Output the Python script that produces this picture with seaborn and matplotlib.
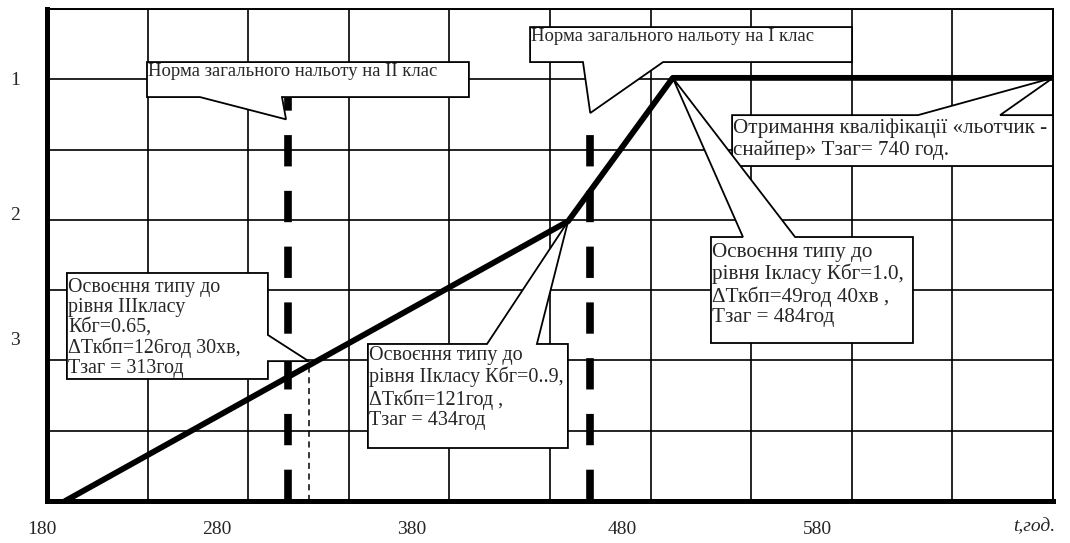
import numpy as np
import matplotlib
matplotlib.use("Agg")
import matplotlib.pyplot as plt
import seaborn as sns
from matplotlib.patches import Polygon

# flight hours vs qualification level
hours = [189, 439, 491, 680]
level = [0.0, 3.98, 6.02, 6.02]

norm_class2 = 300      # norm of total flight time for class II
norm_class1 = 450      # norm of total flight time for class I
t_class3 = 310         # class III reached
level_class3 = 1.99

xtick_pos = [177.5, 264.5, 361.5, 466.0, 563.0]
xtick_labels = ["180", "280", "380", "480", "580"]
ytick_pos = [2.28, 4.06, 5.98]
ytick_labels = ["3", "2", "1"]

# callouts: box (x0, x1, y0, y1), pointer side, base a, tip, base b, text
callouts = [
    dict(box=(229.7, 389.7, 5.747, 6.245), side="bottom", a=256.0, tip=(298.8, 5.43), b=296.8,
         text="Норма загального нальоту на II клас", fs=13.4, ls=1.0, dy=0.02),
    dict(box=(420.1, 580.1, 6.245, 6.743), side="bottom", a=446.4, tip=(norm_class1, 5.52), b=486.2,
         text="Норма загального нальоту на I клас", fs=13.4, ls=1.0, dy=0.02),
    dict(box=(520.5, 680.0, 4.766, 5.49), side="top", a=612.9, tip=(hours[3], level[3]), b=653.7,
         text="Отримання кваліфікації «льотчик -\nснайпер» Тзаг= 740 год.", fs=15.2, ls=1.16, dy=0.05),
    dict(box=(510.0, 610.4, 2.248, 3.756), side="top", a=525.9, tip=(hours[2], level[2]), b=551.8,
         text="Освоєння типу до\nрівня Ікласу Кбг=1.0,\nΔТкбп=49год 40хв ,\nТзаг = 484год", fs=15.2, ls=1.13, dy=0.08),
    dict(box=(339.5, 438.9, 0.754, 2.234), side="top", a=398.7, tip=(hours[1], level[1]), b=423.5,
         text="Освоєння типу до\nрівня IIкласу Кбг=0..9,\nΔТкбп=121год ,\nТзаг = 434год", fs=14.5, ls=1.12, dy=0.03),
    dict(box=(189.9, 289.8, 1.736, 3.244), side="right", a=2.362, tip=(t_class3, level_class3), b=1.99,
         text="Освоєння типу до\nрівня IIIкласу\nКбг=0.65,\nΔТкбп=126год 30хв,\nТзаг = 313год", fs=14.4, ls=1.07, dy=0.07),
]


def callout_poly(c):
    x0, x1, y0, y1 = c["box"]
    a, b, tip = c["a"], c["b"], c["tip"]
    if c["side"] == "bottom":
        pts = [(x0, y1), (x1, y1), (x1, y0), (b, y0), tip, (a, y0), (x0, y0)]
    elif c["side"] == "top":
        pts = [(x0, y1), (a, y1), tip, (b, y1), (x1, y1), (x1, y0), (x0, y0)]
    else:
        pts = [(x0, y1), (x1, y1), (x1, a), tip, (x1, b), (x1, y0), (x0, y0)]
    return Polygon(pts, closed=True, facecolor="white", edgecolor="black", lw=1.3, zorder=4)


sns.set_theme(style="white")
plt.rcParams["font.family"] = ["Liberation Serif", "DejaVu Serif"]

fig = plt.figure(figsize=(10.7, 5.43), dpi=100)
ax = fig.add_axes([47 / 1070, 42 / 543, 1006 / 1070, 492 / 543])

# norms (thick dashed) and class III moment (thin dashed)
ax.plot([norm_class2, norm_class2], [0, 5.75], color="black", lw=5.5,
        linestyle=(0, (4.1, 3.2)), zorder=3)
ax.plot([norm_class1, norm_class1], [0, 5.52], color="black", lw=5.5,
        linestyle=(0, (4.1, 3.2)), zorder=3)
ax.plot([t_class3, t_class3], [0, level_class3], color="black", lw=1.1,
        linestyle=(0, (4, 3)), zorder=3)

for c in callouts:
    ax.add_patch(callout_poly(c))
    x0, x1, y0, y1 = c["box"]
    ax.text(x0 + 0.6, y1 - c["dy"], c["text"], fontsize=c["fs"], va="top", ha="left",
            linespacing=c["ls"], zorder=5)

sns.lineplot(x=hours, y=level, ax=ax, color="black", lw=4.2, sort=False, zorder=5)

# grid on ticks, labels drawn as text (they sit off the grid in the original)
ax.set_xticks(np.arange(180, 681, 50))
ax.set_yticks(np.arange(0, 8, 1))
ax.set_xticklabels([])
ax.set_yticklabels([])
ax.set_xlim(180, 680)
ax.set_ylim(0, 7)
ax.grid(True, color="black", lw=1.2)
ax.tick_params(which="both", length=0)
ax.set_axisbelow(True)

xt = ax.get_xaxis_transform()
for pos, lab in zip(xtick_pos, xtick_labels):
    ax.text(pos, -0.058, lab, transform=xt, fontsize=14, ha="center", va="center",
            clip_on=False)
yt = ax.get_yaxis_transform()
for pos, lab in zip(ytick_pos, ytick_labels):
    ax.text(-0.032, pos, lab, transform=yt, fontsize=14, ha="center", va="center",
            clip_on=False)

for side in ["top", "right"]:
    ax.spines[side].set_linewidth(1.4)
    ax.spines[side].set_color("black")
for side in ["left", "bottom"]:
    ax.spines[side].set_linewidth(3.6)
    ax.spines[side].set_color("black")
    ax.spines[side].set_zorder(6)

fig.text(1034 / 1070, 1 - 527 / 543, "t,год.", fontsize=14, style="italic",
         ha="center", va="center")

fig.savefig("out.png", dpi=100)
